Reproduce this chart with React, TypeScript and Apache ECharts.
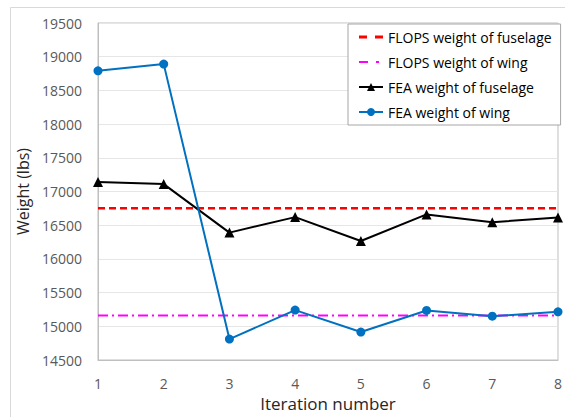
import React, { useEffect, useRef } from "react";
import * as echarts from "echarts";

const iterations = [1, 2, 3, 4, 5, 6, 7, 8];
const flopsFuselage = [16750, 16750, 16750, 16750, 16750, 16750, 16750, 16750];
const flopsWing = [15160, 15160, 15160, 15160, 15160, 15160, 15160, 15160];
const feaFuselage = [17140, 17110, 16390, 16620, 16265, 16660, 16545, 16615];
const feaWing = [18790, 18890, 14810, 15240, 14915, 15235, 15150, 15215];
const seriesNames = [
  "FLOPS weight of fuselage",
  "FLOPS weight of wing",
  "FEA weight of fuselage",
  "FEA weight of wing",
];

const FONT = "'Open Sans', 'Liberation Sans', sans-serif";

// legend icons (box 24 x 10) for the dashed reference lines
const ICON_DASH = "path://M0,0M0,3.6H8V6.4H0Z M16,3.6H24V6.4H16Z M24,10";
const ICON_DASHDOT = "path://M0,0M0,4H9V6H0Z M17,4H20V6H17Z M24,10";

function pairs(vals: number[]) {
  return iterations.map((x, i) => [x, vals[i]]);
}

export default function App() {
  const ref = useRef<HTMLDivElement>(null);
  useEffect(() => {
    if (!ref.current) return;
    const chart = echarts.init(ref.current, null, { renderer: "svg" });
    chart.setOption({
      animation: false,
      backgroundColor: "#ffffff",
      graphic: [
        {
          type: "rect",
          shape: { x: 10.5, y: 7.5, width: 600, height: 500 },
          style: { fill: "none", stroke: "#d9d9d9", lineWidth: 1 },
          silent: true,
          z: -10,
        },
      ],
      grid: {
        left: 98,
        right: 1,
        top: 23,
        bottom: 49,
        show: true,
        borderColor: "#bfbfbf",
        borderWidth: 1,
        backgroundColor: "transparent",
      },
      legend: {
        orient: "vertical",
        left: 348,
        top: 24,
        data: [
          { name: seriesNames[0], icon: ICON_DASH },
          { name: seriesNames[1], icon: ICON_DASHDOT },
          { name: seriesNames[2] },
          { name: seriesNames[3] },
        ],
        backgroundColor: "#ffffff",
        borderColor: "#a6a6a6",
        borderWidth: 1,
        padding: [5, 9, 5, 10],
        itemWidth: 24,
        itemHeight: 10,
        itemGap: 9,
        textStyle: { fontFamily: FONT, fontSize: 14, color: "#000000", lineHeight: 16 },
      },
      xAxis: {
        type: "value",
        min: 1,
        max: 8,
        interval: 1,
        name: "Iteration number",
        nameLocation: "middle",
        nameGap: 35,
        nameTextStyle: { fontFamily: FONT, fontSize: 17, color: "#262626" },
        axisLine: { show: true, lineStyle: { color: "#bfbfbf" } },
        axisTick: { show: false },
        splitLine: { show: false },
        axisLabel: { fontFamily: FONT, fontSize: 14, color: "#595959", margin: 16 },
      },
      yAxis: {
        type: "value",
        min: 14500,
        max: 19500,
        interval: 500,
        name: "Weight (lbs)",
        nameLocation: "middle",
        nameGap: 63,
        nameTextStyle: { fontFamily: FONT, fontSize: 16, color: "#262626" },
        axisLine: { show: true, lineStyle: { color: "#bfbfbf" } },
        axisTick: { show: false },
        splitLine: { show: true, lineStyle: { color: "#e6e6e6" } },
        axisLabel: {
          fontFamily: FONT,
          fontSize: 14,
          color: "#595959",
          margin: 16,
          formatter: (v: number) => String(v),
        },
      },
      series: [
        {
          name: seriesNames[0],
          type: "line",
          data: pairs(flopsFuselage),
          showSymbol: false,
          symbol: "none",
          lineStyle: { color: "#ff0000", width: 2.5, type: [7, 4] },
          itemStyle: { color: "#ff0000" },
          z: 2,
        },
        {
          name: seriesNames[1],
          type: "line",
          data: pairs(flopsWing),
          showSymbol: false,
          symbol: "none",
          lineStyle: { color: "#ff00ff", width: 2, type: [10, 4, 2, 4] },
          itemStyle: { color: "#ff00ff" },
          z: 2,
        },
        {
          name: seriesNames[2],
          type: "line",
          data: pairs(feaFuselage),
          symbol: "triangle",
          symbolSize: 10,
          lineStyle: { color: "#000000", width: 2 },
          itemStyle: { color: "#000000" },
          z: 3,
        },
        {
          name: seriesNames[3],
          type: "line",
          data: pairs(feaWing),
          symbol: "circle",
          symbolSize: 9,
          lineStyle: { color: "#0070c0", width: 2 },
          itemStyle: { color: "#0070c0" },
          z: 4,
        },
      ],
    });
    return () => chart.dispose();
  }, []);
  return <div ref={ref} style={{ width: 565, height: 417, position: "absolute", left: 0, top: 0 }} />;
}
